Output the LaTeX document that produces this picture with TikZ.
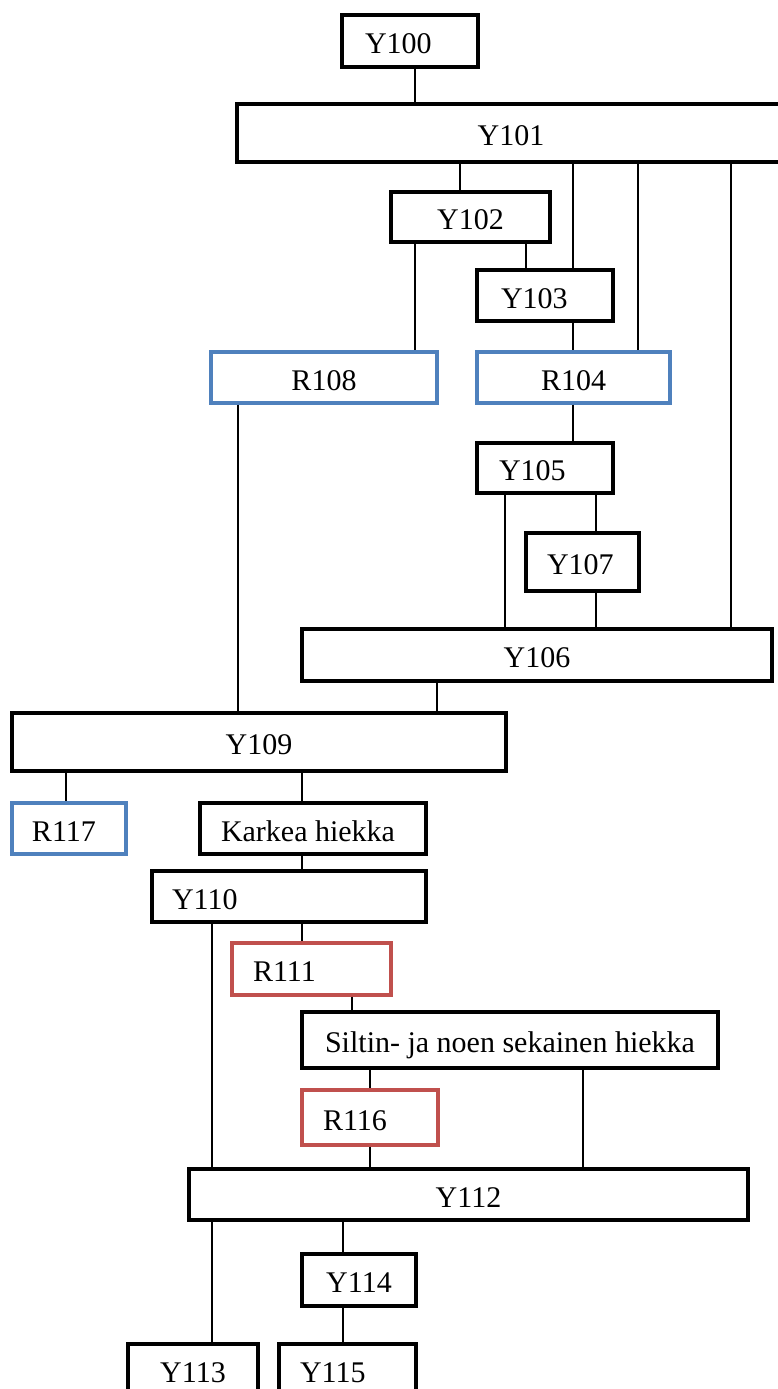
\documentclass[tikz,border=0pt]{standalone}
\usepackage{fontspec}
\setmainfont{Liberation Serif}
\definecolor{boxblue}{RGB}{79,129,189}
\definecolor{boxred}{RGB}{192,80,77}
\newcommand{\ltxt}[3]{\makebox[#1pt][l]{\hspace*{#2pt}#3}}
\tikzset{
  box/.style={draw=black, line width=3.5pt, inner sep=0pt, text height=25pt, text depth=0pt,
    font=\fontsize{30}{36}\selectfont, fill=white},
  bluebox/.style={box, draw=boxblue, line width=3.2pt},
  redbox/.style={box, draw=boxred, line width=3.2pt},
  conn/.style={draw=black, line width=1.3pt}
}
\begin{document}
\begin{tikzpicture}[x=1pt, y=-1pt]
\useasboundingbox (0,0) rectangle (778,1389);
\fill[white] (0,0) rectangle (778,1389);
% nodes
\node[box, minimum width=136pt, minimum height=52pt] (y100) at (410,41) {\ltxt{136}{23}{Y100}};
\node[box, minimum width=548pt, minimum height=58pt] (y101) at (511,133) {Y101};
\node[box, minimum width=159pt, minimum height=50pt] (y102) at (470.5,217) {Y102};
\node[box, minimum width=136pt, minimum height=51pt] (y103) at (545,295.5) {\ltxt{136}{24}{Y103}};
\node[bluebox, minimum width=226pt, minimum height=51pt] (r108) at (324,377.5) {R108};
\node[bluebox, minimum width=193pt, minimum height=51pt] (r104) at (573.5,377.5) {R104};
\node[box, minimum width=136pt, minimum height=50pt] (y105) at (545,468) {\ltxt{136}{22}{Y105}};
\node[box, minimum width=113pt, minimum height=58pt] (y107) at (582.5,562) {\ltxt{113}{21}{Y107}};
\node[box, minimum width=470pt, minimum height=52pt] (y106) at (537,655) {Y106};
\node[box, minimum width=494pt, minimum height=58pt] (y109) at (259,742) {Y109};
\node[bluebox, minimum width=114pt, minimum height=51pt] (r117) at (69,828.5) {\ltxt{114}{20}{R117}};
\node[box, minimum width=226pt, minimum height=51pt] (karkea) at (313,828.5) {\ltxt{226}{21}{Karkea hiekka}};
\node[box, minimum width=274pt, minimum height=51pt] (y110) at (289,896.5) {\ltxt{274}{20}{Y110}};
\node[redbox, minimum width=159pt, minimum height=52pt] (r111) at (311.5,969) {\ltxt{159}{21}{R111}};
\node[box, minimum width=416pt, minimum height=56pt] (siltin) at (510,1040) {Siltin- ja noen sekainen hiekka};
\node[redbox, minimum width=136pt, minimum height=55pt] (r116) at (370,1117.5) {\ltxt{136}{21}{R116}};
\node[box, minimum width=559pt, minimum height=51pt] (y112) at (468.5,1194.5) {Y112};
\node[box, minimum width=114pt, minimum height=52pt] (y114) at (359,1280) {Y114};
\node[box, minimum width=130pt, minimum height=52pt] (y113) at (193,1370) {Y113};
\node[box, minimum width=137pt, minimum height=52pt] (y115) at (347.5,1370) {\ltxt{137}{21}{Y115}};
% connectors
\foreach \x/\a/\b in {415/y100/y101, 460/y101/y102, 573/y101/y103, 638/y101/r104,
  731/y101/y106, 415/y102/r108, 526/y102/y103, 573/y103/r104, 573/r104/y105,
  505/y105/y106, 596/y105/y107, 596/y107/y106, 238/r108/y109, 437/y106/y109,
  66/y109/r117, 302/y109/karkea, 302/karkea/y110, 302/y110/r111, 212/y110/y112,
  352/r111/siltin, 370/siltin/r116, 583/siltin/y112, 370/r116/y112,
  212/y112/y113, 343/y112/y114, 343/y114/y115}
  \draw[conn] (\a.south -| \x,0) -- (\b.north -| \x,0);
\end{tikzpicture}
\end{document}
